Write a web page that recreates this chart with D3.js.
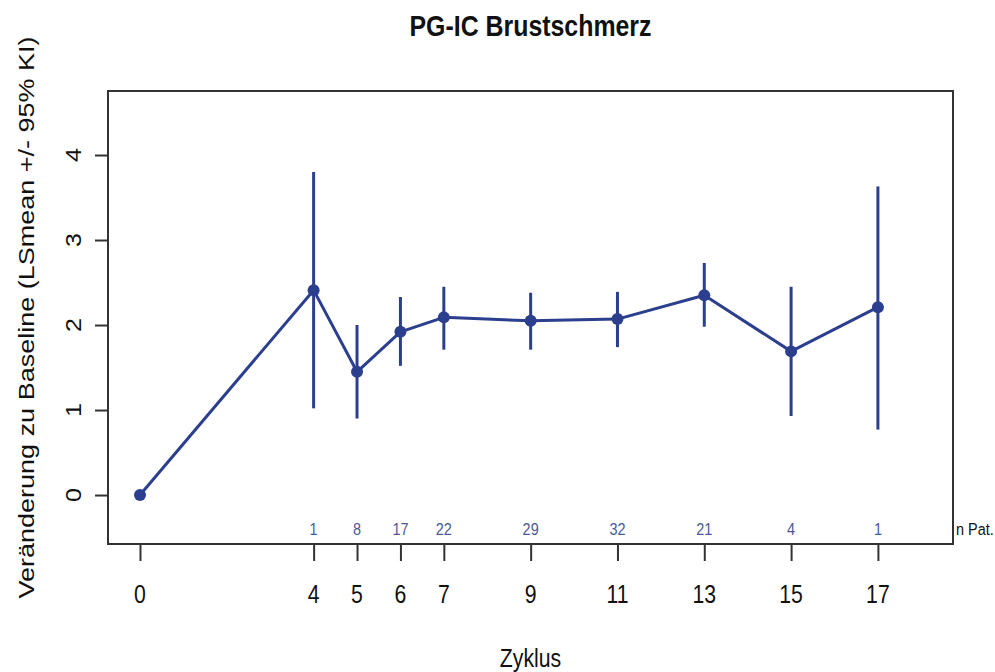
<!DOCTYPE html>
<html>
<head>
<meta charset="utf-8">
<script src="https://cdn.jsdelivr.net/npm/d3@7"></script>
<style>
  html, body { margin: 0; padding: 0; background: #fff; }
  svg { display: block; font-family: "Liberation Sans", Arial, sans-serif; }
</style>
</head>
<body>
<svg id="chart" width="995" height="672"></svg>
<script>
// Zyklus (cycle) values and LSmean change from baseline with 95% CI
const cycles = [0, 4, 5, 6, 7, 9, 11, 13, 15, 17];
const lsmean = [0, 2.41, 1.45, 1.92, 2.09, 2.05, 2.07, 2.35, 1.69, 2.21];
const ciLower = [null, 1.02, 0.90, 1.52, 1.71, 1.71, 1.74, 1.98, 0.93, 0.77];
const ciUpper = [null, 3.80, 2.00, 2.33, 2.45, 2.38, 2.39, 2.73, 2.45, 3.63];
const nPatients = ["", "1", "8", "17", "22", "29", "32", "21", "4", "1"];
const yTicks = [0, 1, 2, 3, 4];

const title = "PG-IC Brustschmerz";
const xTitle = "Zyklus";
const yTitle = "Veränderung zu Baseline (LSmean +/- 95% KI)";

const svg = d3.select("#chart");
const box = { left: 108, right: 953, top: 91, bottom: 544 };
const blue = "#2b3f8e";
const squash = 0.85; // horizontal text compression

const x = d3.scaleLinear().domain([-0.737, 18.73]).range([box.left, box.right]);
const y = d3.scaleLinear().domain([-0.576, 4.753]).range([box.bottom, box.top]);

// Title
svg.append("text")
  .attr("transform", `translate(${(box.left + box.right) / 2},36) scale(0.83,1)`)
  .attr("text-anchor", "middle")
  .attr("font-size", 30).attr("font-weight", "bold").attr("fill", "#111")
  .text(title);

// X axis: ticks hang below the box
const xAxis = d3.axisBottom(x).tickValues(cycles).tickSize(17).tickFormat("");
const gx = svg.append("g").attr("transform", `translate(0,${box.bottom})`).call(xAxis);
gx.select(".domain").remove();
gx.selectAll(".tick line").attr("stroke", "#333").attr("stroke-width", 2);
svg.append("g").selectAll("text").data(cycles).join("text")
  .attr("transform", d => `translate(${x(d)},603) scale(${squash},1)`)
  .attr("text-anchor", "middle").attr("font-size", 25).attr("fill", "#111")
  .text(d => d);

// Y axis with rotated labels
const yAxis = d3.axisLeft(y).tickValues(yTicks).tickSize(13).tickFormat("");
const gy = svg.append("g").attr("transform", `translate(${box.left},0)`).call(yAxis);
gy.select(".domain").remove();
gy.selectAll(".tick line").attr("stroke", "#333").attr("stroke-width", 2);
svg.append("g").selectAll("text").data(yTicks).join("text")
  .attr("transform", d => `translate(81,${y(d)}) scale(${squash},1) rotate(-90)`)
  .attr("text-anchor", "middle").attr("font-size", 25).attr("fill", "#111")
  .text(d => d);

// Axis titles
svg.append("text")
  .attr("transform", `translate(${(box.left + box.right) / 2},667) scale(${squash},1)`)
  .attr("text-anchor", "middle").attr("font-size", 25).attr("fill", "#111")
  .text(xTitle);
svg.append("text")
  .attr("transform", `translate(34,${(box.top + box.bottom) / 2}) scale(${squash},1) rotate(-90)`)
  .attr("text-anchor", "middle").attr("font-size", 27).attr("fill", "#111")
  .text(yTitle);

// Plot box
svg.append("rect")
  .attr("x", box.left).attr("y", box.top)
  .attr("width", box.right - box.left).attr("height", box.bottom - box.top)
  .attr("fill", "none").attr("stroke", "#333").attr("stroke-width", 2);

const pts = cycles.map((c, i) => ({ c, m: lsmean[i], lo: ciLower[i], hi: ciUpper[i], n: nPatients[i] }));

// Confidence intervals
svg.append("g").selectAll("line").data(pts.filter(d => d.lo !== null)).join("line")
  .attr("x1", d => x(d.c)).attr("x2", d => x(d.c))
  .attr("y1", d => y(d.lo)).attr("y2", d => y(d.hi))
  .attr("stroke", blue).attr("stroke-width", 3);

// Mean line
svg.append("path").datum(pts)
  .attr("d", d3.line().x(d => x(d.c)).y(d => y(d.m)))
  .attr("fill", "none").attr("stroke", blue).attr("stroke-width", 3)
  .attr("stroke-linejoin", "round");

// Points
svg.append("g").selectAll("circle").data(pts).join("circle")
  .attr("cx", d => x(d.c)).attr("cy", d => y(d.m)).attr("r", 6)
  .attr("fill", blue);

// Patient counts
svg.append("g").selectAll("text").data(pts.filter(d => d.n !== "")).join("text")
  .attr("transform", d => `translate(${x(d.c)},${box.bottom - 9}) scale(${squash},1)`)
  .attr("text-anchor", "middle").attr("font-size", 17).attr("fill", "#4a5a96")
  .text(d => d.n);
svg.append("text")
  .attr("transform", `translate(${box.right + 3},${box.bottom - 9}) scale(${squash},1)`)
  .attr("font-size", 17).attr("fill", "#111")
  .text("n Pat.");
</script>
</body>
</html>
